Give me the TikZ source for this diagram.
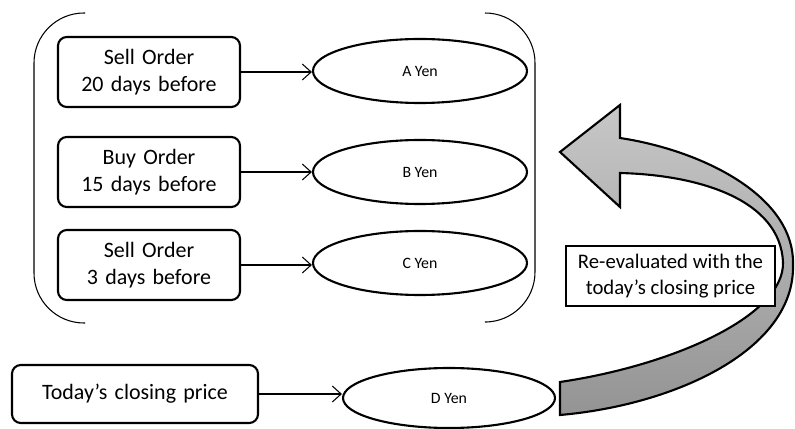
\documentclass[tikz,border=0pt]{standalone}
\usepackage{fontspec}
\setmainfont{Carlito}
\usepackage{tikz}
\usetikzlibrary{arrows.meta,shapes.geometric}

\begin{document}
\begin{tikzpicture}[
		font=\fontsize{12.5}{15}\selectfont,
		>={Straight Barb[length=5pt,width=9pt]},
		orderbox/.style={
			rectangle, rounded corners=5pt,
			draw=black, line width=1.2pt,
			text width=3.4cm, align=center,
			minimum width=3.64cm, minimum height=1.4cm, inner sep=2pt
		},
		yenell/.style={
			ellipse, draw=black, line width=1.2pt,
			minimum width=4.28cm, minimum height=1.28cm, inner sep=0pt,
			font=\fontsize{9}{11}\selectfont
		},
		notebox/.style={
			rectangle, draw=black, line width=1.2pt,
			minimum width=4.18cm, minimum height=1.2cm, align=center, inner sep=2pt,
			font=\fontsize{11.8}{14.5}\selectfont
		},
		arr/.style={->, semithick},
		brk/.style={semithick, rounded corners=1cm}
		]
		\useasboundingbox (0,0) rectangle (15.9,-8.58);
		% orders and their values
		\node[orderbox] (sell20) at (2.98,-1.44) {Sell Order\\20 days before};
		\node[orderbox] (buy15)  at (2.98,-3.44) {Buy Order\\15 days before};
		\node[orderbox] (sell3)  at (2.98,-5.30) {Sell Order\\3 days before};
		\node[yenell] (yenA) at (8.40,-1.42) {A Yen};
		\node[yenell] (yenB) at (8.40,-3.44) {B Yen};
		\node[yenell] (yenC) at (8.40,-5.26) {C Yen};
		\foreach \a/\b in {sell20/yenA, buy15/yenB, sell3/yenC}
		\draw[arr] (\a.east) -- (\a.east -| \b.west);
		
		% brackets round the orders
		\draw[brk] (1.70,-0.26) -| (0.68,-6.46) -- (1.70,-6.46);
		\draw[brk] (9.70,-0.26) -| (10.70,-6.44) -- (9.74,-6.44);
		
		% today's price
		\node[orderbox, text width=4.7cm, minimum width=4.92cm, minimum height=1.16cm] (today) at (2.70,-7.88) {Today's closing price};
		\node[yenell, minimum width=4.24cm, minimum height=1.2cm] (yenD) at (8.98,-7.96) {D Yen};
		\draw[arr] (today.east) -- (today.east -| yenD.west);
		
		% big curved arrow
		\path[draw=black, line width=1.2pt, line join=miter, top color=black!22, bottom color=black!42]
		(12.4,-2.76) .. controls (14.0,-3.0) and (15.9,-3.9) .. (15.86,-5.3)
		.. controls (15.9,-7.0) and (13.5,-8.1) .. (11.2,-8.3)
		-- (11.2,-7.64)
		.. controls (13.5,-7.3) and (15.7,-6.3) .. (15.66,-5.24)
		.. controls (15.6,-4.0) and (14.0,-3.5) .. (12.4,-3.46)
		-- (12.4,-4.14) -- (11.2,-3.04) -- (12.4,-2.1) -- cycle;
		\node[notebox, fill=white] (note) at (13.41,-5.52) {Re-evaluated with the\\today's closing price};
\end{tikzpicture}
\end{document}
